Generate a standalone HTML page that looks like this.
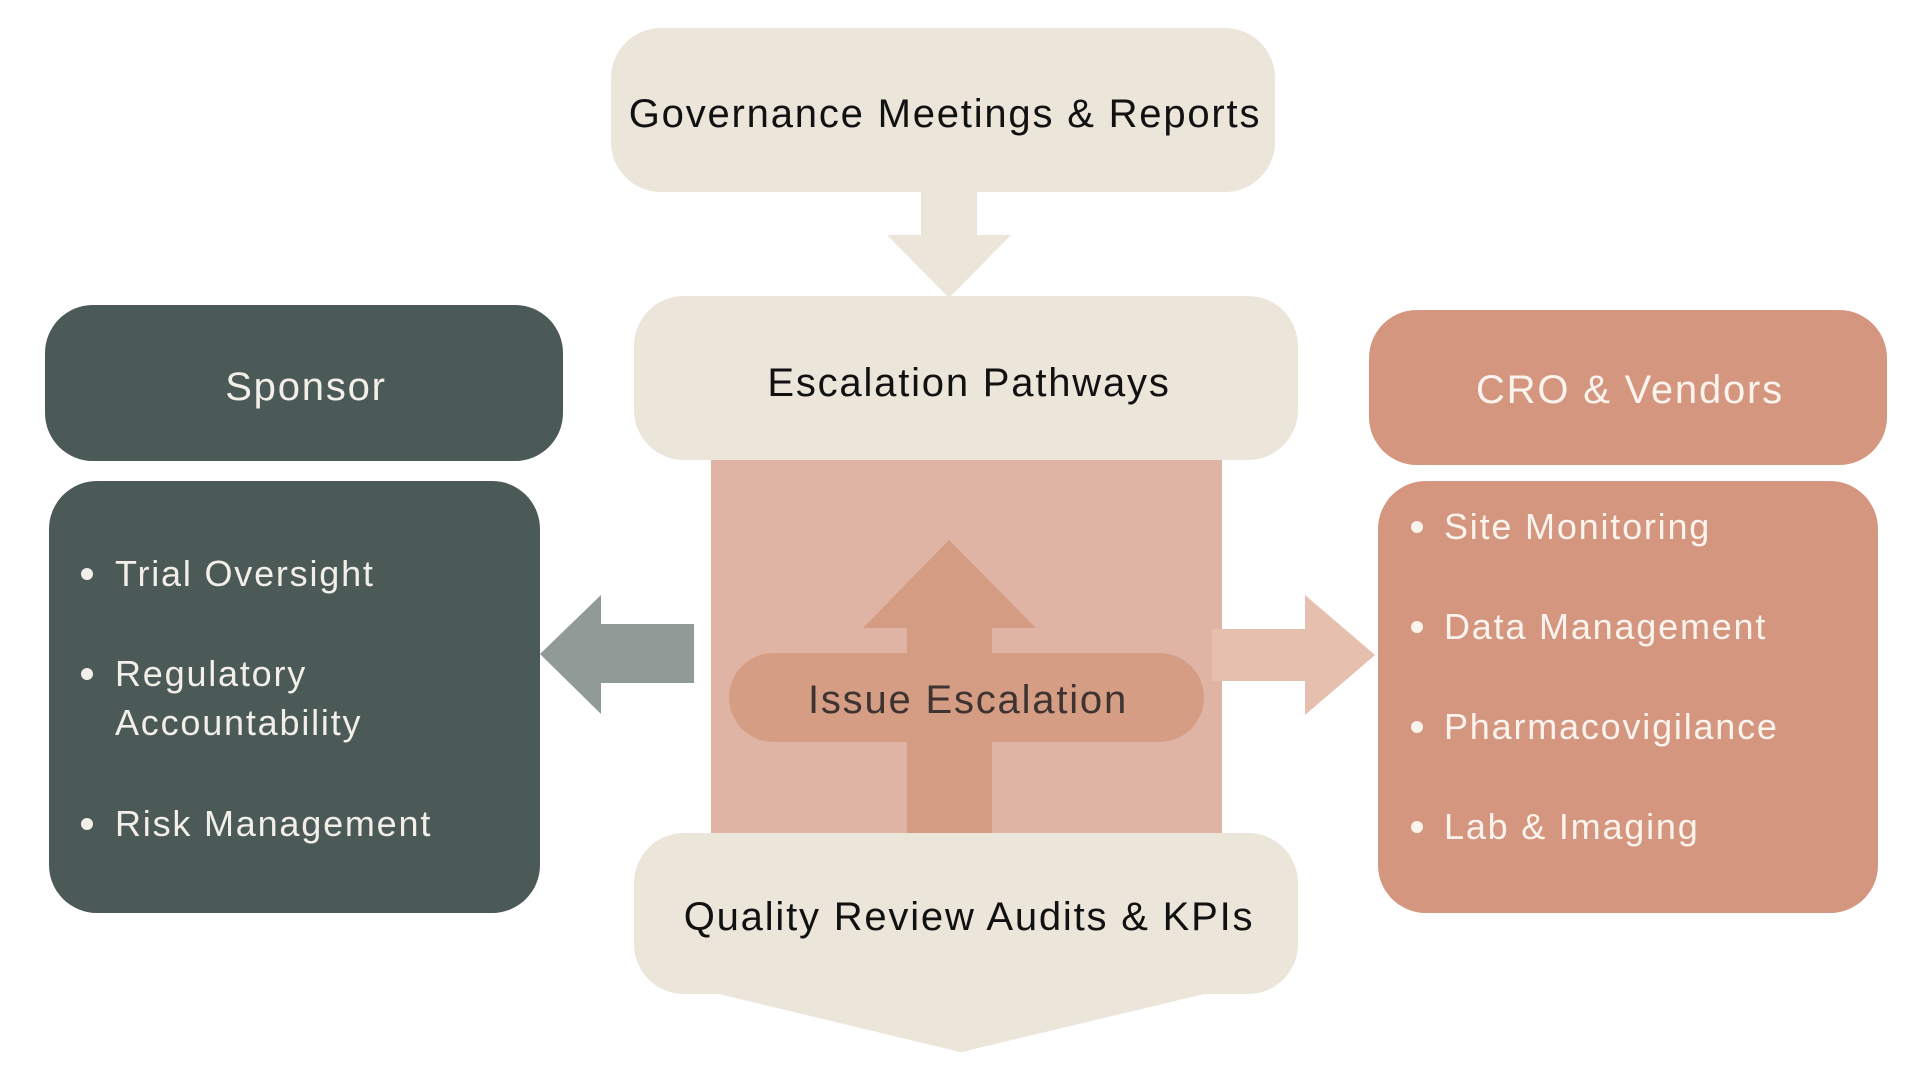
<!DOCTYPE html>
<html><head><meta charset="utf-8"><style>
html,body{margin:0;padding:0;background:#fff;}
svg{display:block;}
text{font-family:"Liberation Sans",sans-serif;letter-spacing:1.8px;}
</style></head><body>
<svg width="1920" height="1080" viewBox="0 0 1920 1080" xmlns="http://www.w3.org/2000/svg">
<rect x="711" y="455" width="511" height="380" fill="#dfb4a4"/>
<polygon points="907,835 992,835 992,628 1036,628 949,540 863,628 907,628" fill="#d59c84"/>
<rect x="729" y="653" width="475" height="89" rx="44.5" fill="#d59c84" fill-opacity="0.95"/>
<text x="968" y="713" font-size="40" fill="#3d3330" text-anchor="middle">Issue Escalation</text>
<polygon points="540,654 601,595 601,624 694,624 694,683 601,683 601,714" fill="#909a97"/>
<polygon points="1212,629 1305,629 1305,595 1375,655 1305,715 1305,681 1212,681" fill="#e6bfae"/>
<rect x="611" y="28" width="664" height="164" rx="50" fill="#ebe5da"/>
<text x="945" y="127" font-size="40" fill="#111" text-anchor="middle">Governance Meetings &amp; Reports</text>
<polygon points="921,190 977,190 977,235 1011,235 949,298 887,235 921,235" fill="#ebe5da"/>
<rect x="634" y="296" width="664" height="164" rx="50" fill="#ebe5da"/>
<text x="969" y="396" font-size="40" fill="#111" text-anchor="middle">Escalation Pathways</text>
<path d="M684,833 H1248 A50,50 0 0 1 1298,883 V944 A50,50 0 0 1 1248,994 H1204 L970,1050 Q961,1054 952,1050 L719,994 H684 A50,50 0 0 1 634,944 V883 A50,50 0 0 1 684,833 Z" fill="#ebe5da"/>
<text x="969" y="930" font-size="40" fill="#111" text-anchor="middle">Quality Review Audits &amp; KPIs</text>
<rect x="45" y="305" width="518" height="156" rx="48" fill="#4b5957"/>
<text x="306" y="400" font-size="40" fill="#f2efe9" text-anchor="middle">Sponsor</text>
<rect x="49" y="481" width="491" height="432" rx="48" fill="#4b5957"/>
<g fill="#f2efe9" font-size="36">
<circle cx="87" cy="574" r="6"/><text x="115" y="586">Trial Oversight</text>
<circle cx="87" cy="674" r="6"/><text x="115" y="686">Regulatory</text>
<text x="115" y="735">Accountability</text>
<circle cx="87" cy="824" r="6"/><text x="115" y="836">Risk Management</text>
</g>
<rect x="1369" y="310" width="518" height="155" rx="48" fill="#d4967e"/>
<text x="1630" y="403" font-size="40" fill="#fbf3ee" text-anchor="middle">CRO &amp; Vendors</text>
<rect x="1378" y="481" width="500" height="432" rx="48" fill="#d4967e"/>
<g fill="#fbf3ee" font-size="36">
<circle cx="1417" cy="527" r="6"/><text x="1444" y="539">Site Monitoring</text>
<circle cx="1417" cy="627" r="6"/><text x="1444" y="639">Data Management</text>
<circle cx="1417" cy="727" r="6"/><text x="1444" y="739">Pharmacovigilance</text>
<circle cx="1417" cy="827" r="6"/><text x="1444" y="839">Lab &amp; Imaging</text>
</g>
</svg>
</body></html>
